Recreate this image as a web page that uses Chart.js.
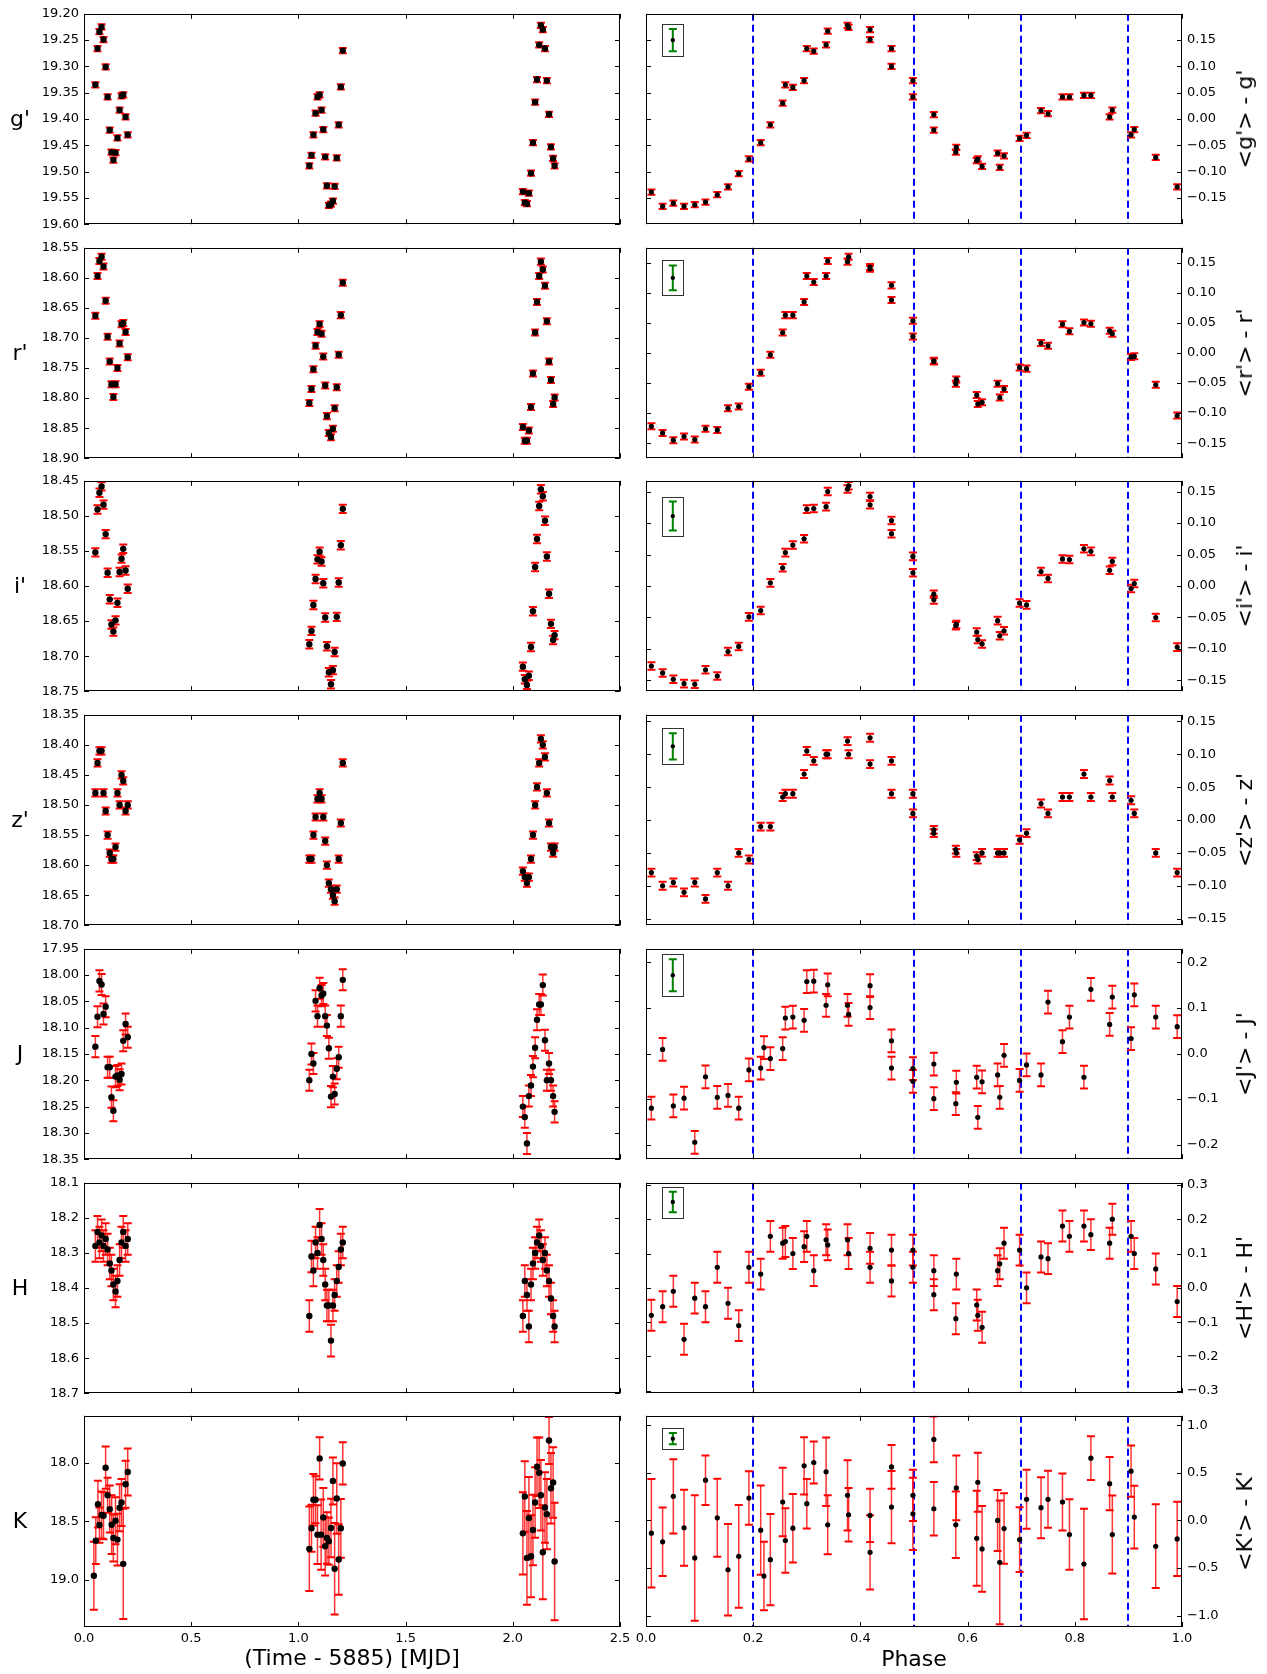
<!DOCTYPE html>
<html><head><meta charset="utf-8">
<script src="https://cdn.jsdelivr.net/npm/chart.js@4.4.1/dist/chart.umd.min.js"></script>
<style>
html,body{margin:0;padding:0;background:#fff;}
body{width:1267px;height:1674px;position:relative;overflow:hidden;font-family:"DejaVu Sans",sans-serif;}
canvas{position:absolute;}
.lab{position:absolute;font-size:22px;color:#000;white-space:nowrap;line-height:1;transform:translate(-50%,-50%);}
.rot{transform:translate(-50%,-50%) rotate(-90deg);}
</style></head><body>
<script>
// ---------------- DATA ----------------
// optical (g', r', i', z') observation times and phases
const tOpt = [0.053,0.063,0.072,0.082,0.091,0.101,0.110,0.120,0.128,0.137,0.147,0.156,0.166,0.175,0.183,0.194,0.204,
  1.051,1.061,1.070,1.080,1.089,1.099,1.108,1.116,1.125,1.133,1.142,1.152,1.161,1.169,1.179,1.188,1.198,1.207,
  2.047,2.056,2.066,2.075,2.085,2.094,2.104,2.113,2.123,2.131,2.140,2.150,2.159,2.169,2.178,2.188,2.195];
const phOpt = [0.010,0.031,0.051,0.071,0.091,0.111,0.133,0.153,0.173,0.192,0.214,0.232,0.255,0.260,0.274,0.295,0.300,0.313,0.336,0.339,
  0.376,0.378,0.418,0.418,0.458,0.458,0.498,0.498,0.537,0.537,0.578,0.579,0.617,0.619,0.627,0.656,0.660,0.668,0.697,0.710,
  0.737,0.750,0.777,0.790,0.817,0.830,0.865,0.870,0.905,0.911,0.951,0.991];

const gMag = [19.335,19.266,19.234,19.225,19.249,19.301,19.358,19.421,19.463,19.478,19.464,19.436,19.383,19.356,19.354,19.396,19.430,
  19.489,19.469,19.430,19.389,19.358,19.354,19.383,19.420,19.472,19.527,19.564,19.562,19.556,19.528,19.474,19.411,19.339,19.270,
  19.538,19.559,19.561,19.541,19.503,19.445,19.368,19.325,19.259,19.222,19.230,19.266,19.327,19.391,19.453,19.475,19.489];
const gDiff = [-0.139,-0.166,-0.160,-0.166,-0.163,-0.158,-0.144,-0.129,-0.104,-0.076,-0.045,-0.011,0.030,0.065,0.060,0.073,0.134,0.129,0.141,0.167,
  0.178,0.174,0.170,0.151,0.134,0.100,0.073,0.042,0.0085,-0.021,-0.063,-0.054,-0.079,-0.076,-0.090,-0.065,-0.092,-0.070,-0.037,-0.031,
  0.016,0.010,0.042,0.042,0.045,0.045,0.004,0.017,-0.030,-0.020,-0.073,-0.129];
const gErr = 0.005;

const rMag = [18.663,18.597,18.572,18.565,18.581,18.638,18.698,18.739,18.777,18.798,18.777,18.750,18.709,18.677,18.675,18.690,18.732,
  18.808,18.785,18.752,18.713,18.690,18.677,18.693,18.731,18.779,18.830,18.858,18.865,18.851,18.817,18.782,18.728,18.662,18.608,
  18.848,18.871,18.871,18.854,18.815,18.759,18.691,18.640,18.597,18.573,18.586,18.613,18.672,18.739,18.770,18.810,18.799];
const rDiff = [-0.122,-0.133,-0.145,-0.139,-0.144,-0.126,-0.128,-0.092,-0.089,-0.056,-0.033,-0.003,0.034,0.063,0.063,0.085,0.128,0.118,0.128,0.153,
  0.152,0.160,0.143,0.140,0.1125,0.088,0.0535,0.0276,-0.014,-0.013,-0.051,-0.044,-0.070,-0.085,-0.082,-0.051,-0.074,-0.060,-0.024,-0.026,
  0.0165,0.012,0.048,0.036,0.0507,0.0485,0.037,0.032,-0.0066,-0.0055,-0.053,-0.104];
const rErr = 0.005;

const iMag = [18.552,18.491,18.467,18.458,18.484,18.526,18.581,18.619,18.655,18.665,18.649,18.624,18.580,18.561,18.547,18.578,18.604,
  18.683,18.664,18.627,18.590,18.562,18.551,18.565,18.596,18.645,18.686,18.723,18.740,18.720,18.694,18.644,18.595,18.542,18.490,
  18.715,18.733,18.741,18.728,18.687,18.636,18.573,18.533,18.486,18.462,18.472,18.507,18.558,18.611,18.654,18.677,18.670];
const iDiff = [-0.127,-0.138,-0.148,-0.155,-0.156,-0.133,-0.143,-0.104,-0.096,-0.049,-0.039,0.005,0.029,0.053,0.065,0.075,0.122,0.123,0.126,0.150,
  0.154,0.159,0.142,0.129,0.104,0.083,0.047,0.021,-0.022,-0.013,-0.063,-0.061,-0.073,-0.085,-0.092,-0.055,-0.079,-0.071,-0.027,-0.030,
  0.023,0.012,0.043,0.042,0.059,0.055,0.025,0.039,-0.004,0.004,-0.050,-0.097];
const iErr = 0.006;

const zMag = [18.48,18.43,18.41,18.41,18.48,18.51,18.55,18.58,18.59,18.59,18.57,18.48,18.50,18.45,18.46,18.51,18.50,
  18.59,18.59,18.55,18.52,18.49,18.48,18.49,18.52,18.56,18.60,18.63,18.64,18.65,18.66,18.64,18.59,18.53,18.43,
  18.61,18.62,18.63,18.62,18.59,18.55,18.50,18.47,18.43,18.39,18.40,18.42,18.48,18.53,18.57,18.58,18.57];
const zDiff = [-0.08,-0.10,-0.095,-0.11,-0.095,-0.12,-0.08,-0.10,-0.05,-0.06,-0.01,-0.01,0.035,0.04,0.04,0.07,0.105,0.09,0.10,0.10,
  0.12,0.10,0.125,0.085,0.09,0.04,0.04,0.01,-0.015,-0.02,-0.045,-0.05,-0.055,-0.06,-0.05,-0.05,-0.05,-0.05,-0.03,-0.02,
  0.025,0.01,0.035,0.035,0.07,0.035,0.06,0.035,0.03,0.01,-0.05,-0.08];
const zErr = 0.006;

// near-infrared
const tJ = tOpt;
const jMag = [18.136,18.079,18.011,18.018,18.074,18.060,18.175,18.175,18.232,18.258,18.193,18.191,18.199,18.188,18.125,18.093,18.118,
  18.200,18.150,18.168,18.049,18.078,18.025,18.039,18.035,18.078,18.096,18.139,18.231,18.193,18.226,18.178,18.156,18.078,18.009,
  18.25,18.27,18.32,18.23,18.21,18.174,18.138,18.085,18.056,18.056,18.019,18.124,18.20,18.168,18.20,18.23,18.26];
const jErr = 0.02;
const phJ = [0.010,0.031,0.051,0.071,0.091,0.111,0.133,0.153,0.173,0.192,0.214,0.220,0.232,0.255,0.260,0.274,0.295,0.300,0.313,0.336,0.339,
  0.376,0.378,0.418,0.418,0.458,0.458,0.498,0.498,0.537,0.537,0.578,0.579,0.617,0.619,0.627,0.656,0.660,0.668,0.697,0.710,
  0.737,0.750,0.777,0.790,0.817,0.830,0.865,0.870,0.905,0.911,0.951,0.991];
const jDiff = [-0.12,0.009,-0.115,-0.098,-0.195,-0.051,-0.096,-0.092,-0.12,-0.036,-0.032,0.013,-0.011,0.011,0.078,0.080,0.073,0.158,0.159,0.106,0.151,
  0.106,0.086,0.149,0.101,0.028,-0.032,-0.033,-0.061,-0.023,-0.099,-0.11,-0.063,-0.052,-0.14,-0.062,-0.047,-0.096,-0.004,-0.059,-0.025,
  -0.047,0.113,0.026,0.080,-0.052,0.141,0.064,0.124,0.033,0.129,0.080,0.059];
const jDiffErr = 0.025;

const tH = tOpt;
const hMag = [18.28,18.24,18.27,18.25,18.28,18.26,18.29,18.33,18.35,18.39,18.41,18.38,18.32,18.27,18.24,18.28,18.26,
  18.48,18.31,18.35,18.27,18.30,18.22,18.26,18.32,18.39,18.45,18.45,18.55,18.45,18.42,18.38,18.34,18.29,18.27,
  18.48,18.38,18.42,18.51,18.39,18.33,18.30,18.27,18.25,18.28,18.32,18.30,18.35,18.38,18.43,18.48,18.51];
const hErr = 0.045;
const phH = phOpt;
const hDiff = [-0.08,-0.055,-0.01,-0.15,-0.03,-0.055,0.06,-0.045,-0.11,0.06,0.04,0.15,0.13,0.135,0.10,0.12,0.15,0.05,0.14,0.125,
  0.14,0.10,0.115,0.06,0.11,0.02,0.11,0.06,0.05,-0.02,-0.09,0.04,-0.05,-0.08,-0.115,0.05,0.07,0.13,0.11,0.0,
  0.09,0.085,0.18,0.15,0.18,0.155,0.13,0.2,0.15,0.1,0.055,-0.04];
const hDiffErr = 0.045;

const tK = [0.046,0.055,0.065,0.072,0.082,0.091,0.101,0.110,0.120,0.129,0.137,0.147,0.156,0.166,0.175,0.183,0.194,0.204,
  1.051,1.061,1.070,1.080,1.089,1.099,1.106,1.116,1.125,1.133,1.142,1.152,1.161,1.169,1.179,1.188,1.198,1.207,
  2.047,2.056,2.066,2.075,2.085,2.094,2.104,2.113,2.123,2.131,2.140,2.150,2.159,2.169,2.178,2.188,2.195];
const kMag = [18.963,18.664,18.353,18.531,18.446,18.452,18.042,18.277,18.395,18.528,18.641,18.494,18.655,18.384,18.339,18.862,18.184,18.079,
  18.734,18.559,18.316,18.316,18.613,17.963,18.613,18.466,18.712,18.641,18.669,18.556,18.155,18.904,18.305,18.825,18.559,18.006,
  18.602,18.288,18.811,18.472,18.797,18.573,18.339,18.034,18.085,18.277,18.763,18.381,18.438,17.811,18.218,18.169,18.842];
const kErr = [0.29,0.2,0.2,0.15,0.2,0.2,0.18,0.15,0.2,0.25,0.2,0.2,0.22,0.2,0.2,0.47,0.2,0.2,
  0.36,0.2,0.22,0.2,0.25,0.18,0.3,0.25,0.25,0.22,0.2,0.25,0.2,0.39,0.3,0.3,0.25,0.18,
  0.35,0.3,0.4,0.35,0.35,0.3,0.3,0.25,0.3,0.3,0.4,0.3,0.3,0.2,0.3,0.3,0.5];
const phK = [0.010,0.031,0.051,0.071,0.091,0.111,0.133,0.153,0.173,0.192,0.214,0.220,0.232,0.255,0.260,0.274,0.295,0.300,0.313,0.336,
  0.339,0.376,0.378,0.418,0.418,0.458,0.458,0.498,0.498,0.537,0.537,0.578,0.579,0.617,0.619,0.627,0.656,0.660,0.668,0.697,
  0.710,0.737,0.750,0.777,0.790,0.817,0.830,0.865,0.870,0.905,0.911,0.951,0.991];
const kDiff = [-0.134,-0.225,0.254,-0.077,-0.394,0.423,0.028,-0.518,-0.377,0.236,-0.102,-0.585,-0.412,0.194,-0.211,-0.081,0.574,0.176,0.609,0.511,
  -0.046,0.264,0.060,0.053,-0.335,0.563,0.141,0.264,0.070,0.852,0.123,-0.046,0.342,-0.187,0.401,-0.299,0.0,-0.440,-0.085,-0.201,
  0.222,0.134,0.222,0.194,-0.148,-0.458,0.655,0.387,-0.148,0.518,0.035,-0.271,-0.194];
const kDiffErr = [0.57,0.36,0.39,0.40,0.66,0.26,0.41,0.48,0.54,0.28,0.47,0.36,0.48,0.36,0.34,0.36,0.30,0.26,0.22,0.36,
  0.31,0.37,0.28,0.28,0.39,0.23,0.38,0.27,0.38,0.24,0.28,0.35,0.34,0.50,0.31,0.45,0.32,0.65,0.37,0.34,
  0.31,0.32,0.30,0.30,0.37,0.58,0.23,0.28,0.41,0.27,0.33,0.44,0.39];

// reference (green) error bars in the phase panels
const insetPhase = 0.05;
const insetY   = [0.15, 0.125, 0.111, 0.112, 0.172, 0.25, 0.86];
const insetErr = [0.021, 0.0206, 0.023, 0.02, 0.035, 0.03, 0.06];

// tick labels
const timeTicks  = [0, 0.5, 1.0, 1.5, 2.0, 2.5];
const phaseTicks = [0, 0.2, 0.4, 0.6, 0.8, 1.0];
const gTicks = [19.20,19.25,19.30,19.35,19.40,19.45,19.50,19.55,19.60];
const rTicks = [18.55,18.60,18.65,18.70,18.75,18.80,18.85,18.90];
const iTicks = [18.45,18.50,18.55,18.60,18.65,18.70,18.75];
const zTicks = [18.35,18.40,18.45,18.50,18.55,18.60,18.65,18.70];
const jTicks = [17.95,18.00,18.05,18.10,18.15,18.20,18.25,18.30,18.35];
const hTicks = [18.1,18.2,18.3,18.4,18.5,18.6,18.7];
const kTicks = [18.0,18.5,19.0];
const dTicksOpt = [-0.15,-0.10,-0.05,0.00,0.05,0.10,0.15];
const dTicksJ = [-0.2,-0.1,0.0,0.1,0.2];
const dTicksH = [-0.3,-0.2,-0.1,0.0,0.1,0.2,0.3];
const dTicksK = [-1.0,-0.5,0.0,0.5,1.0];
const phaseLines = [0.2, 0.5, 0.7, 0.9];

const bandNames = ["g'", "r'", "i'", "z'", "J", "H", "K"];
const diffNames = ["<g'> - g'", "<r'> - r'", "<i'> - i'", "<z'> - z'", "<J'> - J'", "<H'> - H'", "<K'> - K'"];

// ---------------- BUILD ----------------
const bands = [
  {lx:tOpt, ly:gMag, le:gErr, rx:phOpt, ry:gDiff, re:gErr, lmin:19.2, lmax:19.6, lt:gTicks, ld:2, rmin:-0.2, rmax:0.2, rt:dTicksOpt, rd:2},
  {lx:tOpt, ly:rMag, le:rErr, rx:phOpt, ry:rDiff, re:rErr, lmin:18.55, lmax:18.9, lt:rTicks, ld:2, rmin:-0.175, rmax:0.175, rt:dTicksOpt, rd:2},
  {lx:tOpt, ly:iMag, le:iErr, rx:phOpt, ry:iDiff, re:iErr, lmin:18.45, lmax:18.75, lt:iTicks, ld:2, rmin:-0.167, rmax:0.167, rt:dTicksOpt, rd:2},
  {lx:tOpt, ly:zMag, le:zErr, rx:phOpt, ry:zDiff, re:zErr, lmin:18.35, lmax:18.7, lt:zTicks, ld:2, rmin:-0.16, rmax:0.16, rt:dTicksOpt, rd:2},
  {lx:tJ, ly:jMag, le:jErr, rx:phJ, ry:jDiff, re:jDiffErr, lmin:17.95, lmax:18.35, lt:jTicks, ld:2, rmin:-0.232, rmax:0.23, rt:dTicksJ, rd:1},
  {lx:tH, ly:hMag, le:hErr, rx:phH, ry:hDiff, re:hDiffErr, lmin:18.1, lmax:18.7, lt:hTicks, ld:1, rmin:-0.307, rmax:0.306, rt:dTicksH, rd:1},
  {lx:tK, ly:kMag, le:kErr, rx:phK, ry:kDiff, re:kDiffErr, lmin:17.6, lmax:19.4, lt:kTicks, ld:1, rmin:-1.12, rmax:1.1, rt:dTicksK, rd:1}
];

Chart.defaults.font.family = "'DejaVu Sans', sans-serif";
Chart.defaults.font.size = 13;
Chart.defaults.color = '#000';

const fmt = (v, d) => { if (Math.abs(v) < 1e-9) v = 0; return (v < 0 ? '\u2212' : '') + Math.abs(v).toFixed(d); };

const decorPlugin = {
  id: 'decor',
  beforeDatasetsDraw(chart) {
    const {ctx, chartArea: a, scales: {x, y}} = chart;
    const o = chart.options.plugins.decor;
    ctx.save();
    ctx.beginPath(); ctx.rect(a.left, a.top, a.right - a.left, a.bottom - a.top); ctx.clip();
    if (o.vlines) {
      ctx.strokeStyle = '#0000ff'; ctx.lineWidth = 2; ctx.setLineDash([7, 4]);
      o.vlines.forEach(v => {
        const px = Math.round(x.getPixelForValue(v));
        ctx.beginPath(); ctx.moveTo(px, a.top); ctx.lineTo(px, a.bottom); ctx.stroke();
      });
      ctx.setLineDash([]);
    }
    chart.data.datasets.forEach(ds => {
      ds.data.forEach((p, j) => {
        const e = Array.isArray(ds.err) ? ds.err[j] : ds.err;
        const px = x.getPixelForValue(p.x);
        const y1 = y.getPixelForValue(p.y - e), y2 = y.getPixelForValue(p.y + e);
        ctx.strokeStyle = ds.errColor; ctx.lineWidth = ds.errWidth;
        ctx.beginPath(); ctx.moveTo(px, y1); ctx.lineTo(px, y2); ctx.stroke();
        ctx.strokeStyle = ds.capColor; ctx.lineWidth = 2;
        ctx.beginPath();
        ctx.moveTo(px - ds.capW, y1); ctx.lineTo(px + ds.capW, y1);
        ctx.moveTo(px - ds.capW, y2); ctx.lineTo(px + ds.capW, y2);
        ctx.stroke();
        if (ds.inset) {
          const t = Math.min(y1, y2) - 5, b = Math.max(y1, y2) + 5;
          ctx.strokeStyle = '#333'; ctx.lineWidth = 1;
          ctx.strokeRect(Math.round(px - 10.5) + 0.5, Math.round(t) + 0.5, 21, Math.round(b - t));
        }
      });
    });
    ctx.restore();
  },
  afterDraw(chart) {
    const {ctx, chartArea: a, scales: {x, y}} = chart;
    ctx.save();
    ctx.strokeStyle = '#000'; ctx.lineWidth = 1;
    ctx.strokeRect(Math.round(a.left) + 0.5, Math.round(a.top) + 0.5, Math.round(a.right - a.left) - 1, Math.round(a.bottom - a.top) - 1);
    const L = 5;
    ctx.beginPath();
    x.ticks.forEach(t => {
      const px = Math.round(x.getPixelForValue(t.value)) + 0.5;
      ctx.moveTo(px, a.bottom); ctx.lineTo(px, a.bottom - L);
      ctx.moveTo(px, a.top); ctx.lineTo(px, a.top + L);
    });
    y.ticks.forEach(t => {
      const py = Math.round(y.getPixelForValue(t.value)) + 0.5;
      ctx.moveTo(a.left, py); ctx.lineTo(a.left + L, py);
      ctx.moveTo(a.right, py); ctx.lineTo(a.right - L, py);
    });
    ctx.stroke();
    ctx.restore();
  }
};

const ROW0 = 13, PITCH = 233.7, PH = 212;

function makeChart(o) {
  const c = document.createElement('canvas');
  const h = o.last ? PH + 12 + 32 : PH + 24;
  c.width = o.width; c.height = h;
  c.style.left = o.left + 'px'; c.style.top = (o.top - 12) + 'px';
  c.style.width = o.width + 'px'; c.style.height = h + 'px';
  document.body.appendChild(c);
  const datasets = [{
    data: o.xs.map((v, i) => ({x: v, y: o.ys[i]})),
    err: o.err, errColor: 'rgba(255,0,0,0.8)', errWidth: 1.5, capColor: '#ff0000', capW: 4,
    pointRadius: o.r, pointHoverRadius: o.r, pointBackgroundColor: '#000', pointBorderWidth: 0
  }];
  if (o.inset) datasets.push({
    data: [{x: o.inset[0], y: o.inset[1]}], err: o.inset[2], inset: true,
    errColor: '#008000', errWidth: 2, capColor: '#008000', capW: 4,
    pointRadius: 2.2, pointHoverRadius: 2.2, pointBackgroundColor: '#000', pointBorderWidth: 0
  });
  const tickSet = arr => s => { s.ticks = arr.map(v => ({value: v})); };
  new Chart(c, {
    type: 'scatter',
    data: {datasets},
    options: {
      responsive: false, animation: false, events: [],
      layout: {padding: {left: o.padL, right: o.padR, top: 12, bottom: o.last ? 0 : 12}},
      plugins: {legend: {display: false}, tooltip: {enabled: false}, decor: {vlines: o.vlines}},
      scales: {
        x: {
          type: 'linear', min: o.xmin, max: o.xmax,
          afterBuildTicks: tickSet(o.xt),
          grid: {display: false, drawTicks: false}, border: {display: false},
          ticks: {display: o.last, padding: 4, autoSkip: false, maxRotation: 0, callback: v => fmt(v, 1)},
          afterFit: s => { s.height = o.last ? 32 : 0; }
        },
        y: {
          type: 'linear', position: o.ypos, reverse: o.reverse, min: o.ymin, max: o.ymax,
          afterBuildTicks: tickSet(o.yt),
          grid: {display: false, drawTicks: false}, border: {display: false},
          ticks: {padding: 5, autoSkip: false, callback: v => fmt(v, o.yd)},
          afterFit: s => { s.width = o.yw; }
        }
      }
    },
    plugins: [decorPlugin]
  });
}

function addLabel(text, x, y, rot) {
  const d = document.createElement('div');
  d.className = 'lab' + (rot ? ' rot' : '');
  d.textContent = text;
  d.style.left = x + 'px'; d.style.top = y + 'px';
  document.body.appendChild(d);
}

bands.forEach((b, k) => {
  const top = Math.round(ROW0 + k * PITCH);
  const last = k === bands.length - 1;
  makeChart({left: 0, width: 640, top, last, padL: 0, padR: 20, ypos: 'left', yw: 84, reverse: true,
    xmin: 0, xmax: 2.5, xt: timeTicks, ymin: b.lmin, ymax: b.lmax, yt: b.lt, yd: b.ld,
    xs: b.lx, ys: b.ly, err: b.le, r: 3.2});
  makeChart({left: 626, width: 641, top, last, padL: 20, padR: 0, ypos: 'right', yw: 85, reverse: false,
    xmin: 0, xmax: 1, xt: phaseTicks, ymin: b.rmin, ymax: b.rmax, yt: b.rt, yd: b.rd,
    xs: b.rx, ys: b.ry, err: b.re, r: 2.6, vlines: phaseLines, inset: [insetPhase, insetY[k], insetErr[k]]});
  addLabel(bandNames[k], 20, top + PH / 2, false);
  addLabel(diffNames[k], 1245, top + PH / 2, true);
});
addLabel('(Time - 5885) [MJD]', 352, 1658, false);
addLabel('Phase', 914, 1659, false);
</script>
</body></html>
